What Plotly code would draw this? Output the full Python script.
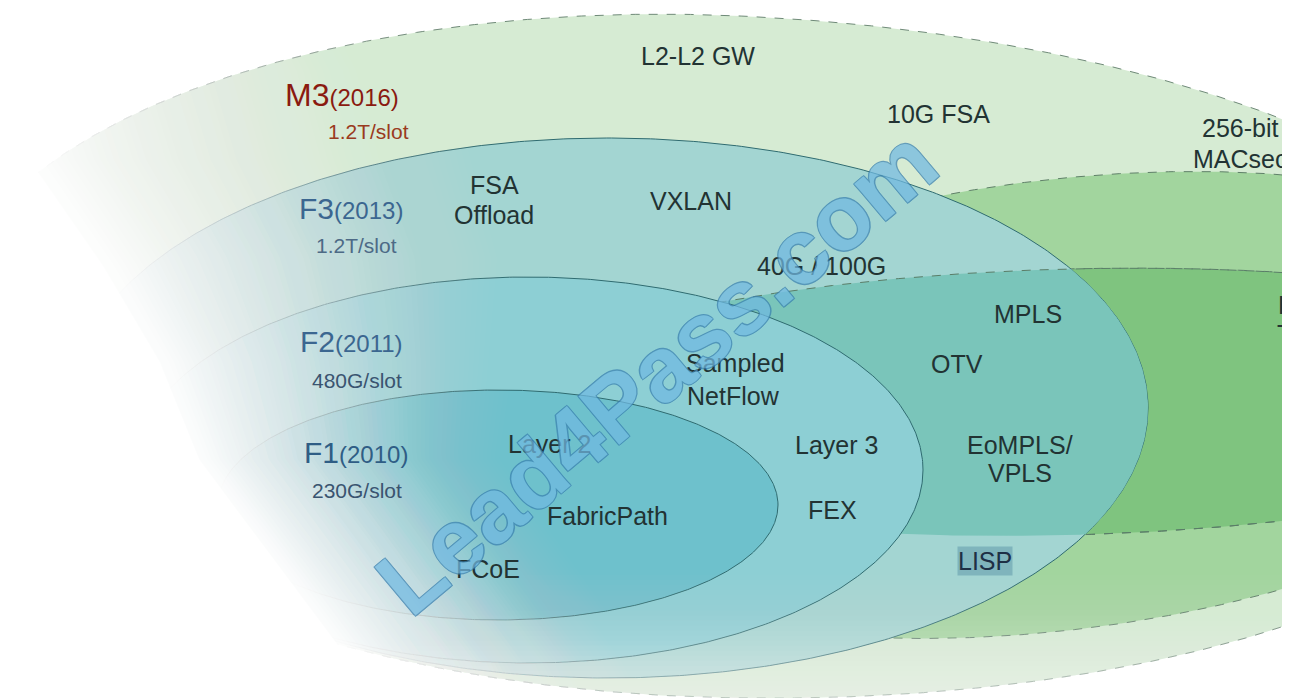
import numpy as np
import plotly.graph_objects as go

# ---------------- data ----------------
# nested feature sets (ellipse geometry in page pixels)
set_names = ["M3", "G1", "F3", "G2", "F2", "F1"]
set_cx = [700, 1050, 600, 1060, 520, 490]
set_cy = [348, 397, 400, 394, 462, 497]
set_rx_left = [765, 560, 540, 600, 395, 280]
set_rx_right = [860, 560, 540, 600, 395, 280]
set_ry = [341, 225, 270, 133, 193, 115]
set_rot = [2, -7, 0, -1.5, 0, 0]

# module titles
module_titles = ["M3", "F3", "F2", "F1"]
module_years = ["(2016)", "(2013)", "(2011)", "(2010)"]
module_speed = ["1.2T/slot", "1.2T/slot", "480G/slot", "230G/slot"]
title_x = [334, 343, 343, 348]
title_y = [87, 200, 333, 444]
speed_x = [360, 348, 349, 349]
speed_y = [123, 237, 372, 482]

# feature labels
features = ["L2-L2 GW", "10G FSA", "256-bit", "MACsec", "FSA", "Offload", "VXLAN",
            "40G / 100G", "MPLS", "Sampled", "NetFlow", "OTV", "Layer 2", "Layer 3",
            "EoMPLS/", "VPLS", "FabricPath", "FEX", "FCoE", "LISP", "L", "T"]
feature_x = [690, 930, 1232, 1232, 486, 486, 683, 813, 1020, 727, 725, 949, 541, 828,
             1012, 1012, 599, 824, 480, 977, 1286, 1286]
feature_y = [48, 106, 120, 151, 177, 207, 193, 258, 306, 355, 388, 356, 436, 437,
             437, 465, 508, 502, 561, 553, 297, 326]

watermark = "Lead4Pass.com"

# ---------------- styles ----------------
set_fill = ["#d6ebd3", "#a2d59e", "#a3d5d2", "#7fc47f", "#8dcfd4", "#6ec1cc"]
overlap_fill = "#7ac5ba"   # G2 seen inside F3
set_line = ["#6f8a78", "#5f8068", "#2f6b70", "#5a7d68", "#2f6b70", "#2f6b70"]
set_dash = ["dash", "dash", "solid", "dash", "solid", "solid"]
title_color = ["#8a1a10", "#3b6690", "#3b6690", "#2f5d85"]
speed_color = ["#9a3a20", "#4d6a86", "#3a5470", "#3a5470"]
FONT = "Liberation Sans, Arial, sans-serif"

# soft white fade (left side / bottom) - decorative style only
fade_y = [-10, 60, 150, 250, 350, 450, 550, 650, 710]
fade_white = [-40, -10, 20, 90, 150, 190, 265, 340, 370]
fade_clear = [480, 520, 540, 560, 540, 520, 590, 660, 690]
bottom_y = [560, 600, 630, 660, 690, 710]
bottom_alpha = [0.0, 0.12, 0.25, 0.45, 0.6, 0.65]


def outline(i, n=700):
    t = np.linspace(0, 2 * np.pi, n)
    c, s = np.cos(t), np.sin(t)
    r = np.where(c >= 0, set_rx_right[i], set_rx_left[i])
    lx, ly = r * c, set_ry[i] * s
    th = np.radians(set_rot[i])
    x = set_cx[i] + lx * np.cos(th) - ly * np.sin(th)
    y = set_cy[i] + lx * np.sin(th) + ly * np.cos(th)
    return x, y


def inside(i, x, y):
    th = np.radians(set_rot[i])
    dx, dy = x - set_cx[i], y - set_cy[i]
    lx = dx * np.cos(th) + dy * np.sin(th)
    ly = -dx * np.sin(th) + dy * np.cos(th)
    r = np.where(lx >= 0, set_rx_right[i], set_rx_left[i])
    return (lx / r) ** 2 + (ly / set_ry[i]) ** 2 < 1


def area(x, y, color, line=None):
    fig.add_trace(go.Scatter(x=x, y=y, mode="lines", fill="toself", fillcolor=color,
                             line=line or dict(width=0), hoverinfo="skip", showlegend=False))


fig = go.Figure()
iF3, iG2 = set_names.index("F3"), set_names.index("G2")
for i, name in enumerate(set_names):
    x, y = outline(i)
    if name == "G2":
        # overlap of G2 with F3 (convex intersection)
        fx, fy = outline(iF3)
        m1 = inside(iF3, x, y)
        m2 = inside(iG2, fx, fy)
        px = np.concatenate([x[m1], fx[m2]])
        py = np.concatenate([y[m1], fy[m2]])
        ang = np.arctan2(py - py.mean(), px - px.mean())
        o = np.argsort(ang)
        area(np.append(px[o], px[o][0]), np.append(py[o], py[o][0]), overlap_fill)
        yl = np.where(m1 & (y > set_cy[i]), np.nan, y)
        fig.add_trace(go.Scatter(x=x, y=yl, mode="lines",
                                 line=dict(color=set_line[i], width=1, dash=set_dash[i]),
                                 hoverinfo="skip", showlegend=False, connectgaps=False))
    elif name == "F3":
        # G2 body (outside part shows as deeper green) sits under F3
        gx, gy = outline(iG2)
        area(gx, gy, set_fill[iG2], dict(color=set_line[iG2], width=1, dash="dash"))
        area(x, y, set_fill[i], dict(color=set_line[i], width=1, dash=set_dash[i]))
    else:
        area(x, y, set_fill[i], dict(color=set_line[i], width=1, dash=set_dash[i]))

# left fade: opaque white beyond the "white" edge, then smooth translucent bands
yy = np.linspace(-10, 710, 90)
xw = np.interp(yy, fade_y, fade_white)
xc = np.interp(yy, fade_y, fade_clear)
area(np.concatenate([xw + 0.5, [-60, -60]]), np.concatenate([yy, [710, -10]]), "white")
N = 80
b = np.arange(1, N + 1) / N            # band j covers s < b[j]
s_left = np.concatenate([[0.0], b[:-1]])
alpha_t = 0.999 * (1 - (3 * s_left ** 2 - 2 * s_left ** 3))
T = np.append(1 - alpha_t, 1.0)
for j in range(N):
    op = 1 - T[j] / T[j + 1]
    edge = xw + b[j] * (xc - xw)
    area(np.concatenate([edge, [-60, -60]]), np.concatenate([yy, [710, -10]]),
         f"rgba(255,255,255,{op:.4f})")

# bottom fade
M = 30
by_k = np.linspace(562, 708, M)
Tb = 1 - np.interp(by_k, bottom_y, bottom_alpha)
prev = 1.0
for j in range(M):
    op = 1 - Tb[j] / prev
    prev = Tb[j]
    area([-20, 1310, 1310, -20], [by_k[j], by_k[j], 720, 720],
         f"rgba(255,255,255,{max(op, 0):.4f})")

ann = []
for i, t in enumerate(module_titles):
    big = 32 if t == "M3" else 30
    ann.append(dict(x=title_x[i], y=title_y[i], xref="x", yref="y", showarrow=False,
                    text=f"{t}<span style='font-size:24px'>{module_years[i]}</span>",
                    font=dict(family=FONT, size=big, color=title_color[i])))
    ann.append(dict(x=speed_x[i], y=speed_y[i], xref="x", yref="y", showarrow=False,
                    text=module_speed[i],
                    font=dict(family=FONT, size=21, color=speed_color[i])))

for i, t in enumerate(features):
    a = dict(x=feature_x[i], y=feature_y[i], xref="x", yref="y", showarrow=False,
             text=t, font=dict(family=FONT, size=25, color="#223333"))
    if t in ("L", "T"):
        a["xanchor"] = "right"
    if t == "LISP":
        a["bgcolor"] = "rgba(60,120,150,0.35)"
        a["font"] = dict(family=FONT, size=25, color="#1e2f45")
        a["borderpad"] = 0
    ann.append(a)

ann.append(dict(x=648, y=364, xref="x", yref="y", showarrow=False, text=watermark,
                textangle=-40, opacity=0.72,
                font=dict(family=FONT, size=92, weight="bold", color="rgb(112,185,226)",
                          shadow="1px 1px 0 #3a80b0, -1px -1px 0 #3a80b0, 1px -1px 0 #3a80b0, -1px 1px 0 #3a80b0")))

fig.update_layout(
    width=1290, height=698,
    margin=dict(l=0, r=0, t=0, b=0),
    paper_bgcolor="white", plot_bgcolor="white",
    xaxis=dict(range=[0, 1290], visible=False, fixedrange=True),
    yaxis=dict(range=[698, 0], visible=False, fixedrange=True),
    annotations=ann,
    showlegend=False,
)
fig.write_html("out.html")
